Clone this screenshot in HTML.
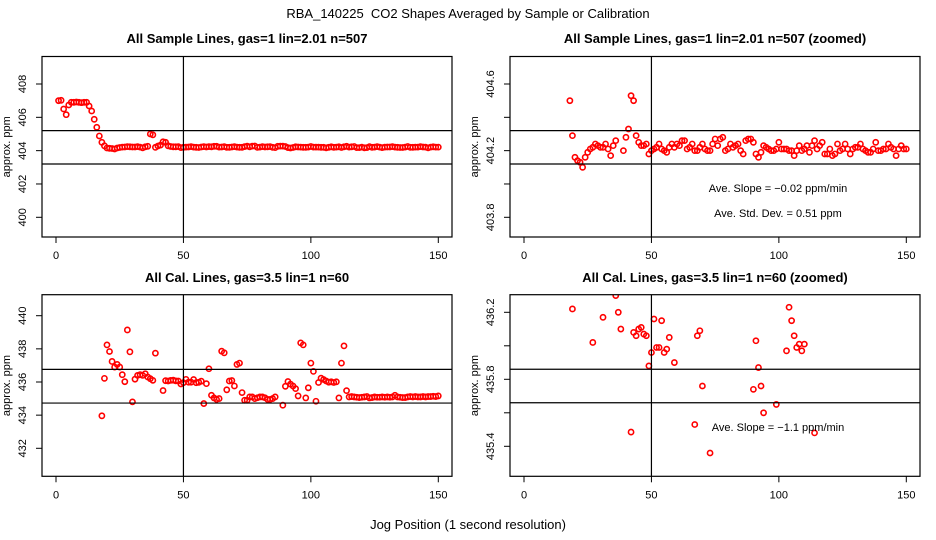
<!DOCTYPE html>
<html><head><meta charset="utf-8"><style>
html,body{margin:0;padding:0;background:#fff;width:936px;height:540px;overflow:hidden;}
svg{display:block;font-family:"Liberation Sans",sans-serif;}
</style></head><body>
<svg id="chart" width="936" height="540" viewBox="0 0 936 540" xmlns="http://www.w3.org/2000/svg">
<text x="468" y="18" text-anchor="middle" font-size="13" style="white-space:pre">RBA_140225  CO2 Shapes Averaged by Sample or Calibration</text>
<text x="468" y="529" text-anchor="middle" font-size="13">Jog Position (1 second resolution)</text>
</svg>
<script>
const sampleX = [];
for (let i = 1; i <= 150; i++) sampleX.push(i);
const sampleValues = [407.0,407.02,406.5,406.16,406.74,406.9,406.9,406.92,406.9,406.88,406.9,406.9,406.68,406.38,405.88,405.4,404.88,
404.50,404.29,404.16,404.14,404.13,404.10,404.16,404.19,404.21,404.22,404.24,404.23,404.22,404.22,404.24,404.21,404.17,404.23,404.26,405.0,404.95,404.20,404.28,404.33,404.53,404.50,404.29,404.25,404.23,404.23,404.24,404.18,404.20,
404.21,404.22,404.24,404.21,404.20,404.19,404.22,404.24,404.22,404.24,404.23,404.26,404.26,404.21,404.22,404.24,404.20,404.20,404.22,404.24,
404.21,404.20,404.20,404.24,404.27,404.23,404.27,404.28,404.20,404.21,404.24,404.22,404.23,404.24,404.20,404.18,404.26,404.27,404.27,404.25,
404.18,404.16,404.19,404.23,404.22,404.21,404.20,404.20,404.21,404.25,404.21,404.21,404.21,404.20,404.20,404.17,404.20,404.23,404.20,404.21,
404.23,404.19,404.23,404.26,404.21,404.23,404.25,404.18,404.18,404.21,404.17,404.18,404.24,404.20,404.21,404.24,404.21,404.18,404.21,404.22,
404.22,404.24,404.21,404.20,404.19,404.19,404.21,404.25,404.20,404.20,404.21,404.21,404.24,404.22,404.21,404.17,404.21,404.23,404.21,404.21];
const calX = [];
for (let i = 18; i <= 150; i++) calX.push(i);
const calValues = [433.96,436.22,438.24,437.84,437.24,436.9,437.06,436.9,436.44,436.02,439.14,437.82,434.8,436.17,436.4,436.44,436.4,436.5,436.3,436.2,436.10,437.74,null,null,
435.485,436.08,436.06,436.10,436.11,436.07,436.06,435.88,435.96,436.16,435.99,435.99,436.15,435.96,435.98,436.05,434.7,435.90,436.8,435.2,435.04,434.95,435.0,437.86,437.76,435.53,
436.06,436.09,435.76,437.06,437.14,435.36,434.9,434.9,435.1,435.1,435.0,435.05,435.1,435.1,435.05,434.95,434.95,435.0,435.1,null,null,434.6,435.74,436.03,435.87,435.76,435.6,435.16,
438.36,438.24,435.04,435.65,437.14,436.64,434.84,435.97,436.23,436.15,436.06,435.99,436.01,435.97,436.01,435.04,437.14,438.18,435.48,435.1,
435.12,435.1,435.08,435.06,435.08,435.1,435.12,435.04,435.06,435.1,435.08,435.08,435.1,435.08,435.1,435.08,435.1,435.2,435.1,435.08,435.06,435.06,435.1,435.12,435.1,435.12,435.1,435.1,435.12,435.1,435.12,435.12,435.14,435.12,435.16];
const xTicks = [0,50,100,150];
const tlTicks = [400,402,404,406,408];
const trTicks = [403.8,404.0,404.2,404.4,404.6];
const trLabels = ["403.8","","404.2","","404.6"];
const blTicks = [432,434,436,438,440];
const brTicks = [435.4,435.6,435.8,436.0,436.2];
const brLabels = ["435.4","","435.8","","436.2"];
const tlRefs = [405.2,403.2];
const trRefs = [404.32,404.12];
const blRefs = [436.76,434.73];
const brRefs = [435.86,435.66];

const NS = "http://www.w3.org/2000/svg";
const svg = document.getElementById('chart');
function mk(tag, attrs, parent){const e=document.createElementNS(NS,tag);for(const k in attrs)e.setAttribute(k,attrs[k]);(parent||svg).appendChild(e);return e;}

const panels = [
 {name:'sample-full',dx:0,top:56.5,bot:237,v1:408,p1:84,v2:400,p2:217.3,title:'All Sample Lines, gas=1 lin=2.01 n=507',xs:sampleX,ys:sampleValues,ticks:tlTicks,labels:tlTicks.map(String),refs:tlRefs,ty:43},
 {name:'sample-zoomed',dx:468,top:56.5,bot:237,v1:404.6,p1:84,v2:403.8,p2:217.3,title:'All Sample Lines, gas=1 lin=2.01 n=507 (zoomed)',xs:sampleX,ys:sampleValues,ticks:trTicks,labels:trLabels,refs:trRefs,ty:43},
 {name:'cal-full',dx:0,top:294.7,bot:476.3,v1:440,p1:315.7,v2:432,p2:448.3,title:'All Cal. Lines, gas=3.5 lin=1 n=60',xs:calX,ys:calValues,ticks:blTicks,labels:blTicks.map(String),refs:blRefs,ty:282},
 {name:'cal-zoomed',dx:468,top:294.7,bot:476.3,v1:436.2,p1:312.3,v2:435.4,p2:446.3,title:'All Cal. Lines, gas=3.5 lin=1 n=60 (zoomed)',xs:calX,ys:calValues,ticks:brTicks,labels:brLabels,refs:brRefs,ty:282}
];

panels.forEach((p,pi)=>{
  const L=42+p.dx, R=452+p.dx;
  const xS = v => 56+p.dx + v*(382.3/150);
  const yS = v => p.p1 + (v-p.v1)*(p.p2-p.p1)/(p.v2-p.v1);
  const g = mk('g',{});
  
  
  const t = mk('text',{x:(L+R)/2,y:p.ty,'text-anchor':'middle','font-size':13,'font-weight':'bold'},g);
  t.textContent=p.title;
  
  
  const cp = mk('clipPath',{id:'clip'+pi},g);
  mk('rect',{x:L,y:p.top,width:R-L,height:p.bot-p.top},cp);
  const pg = mk('g',{'clip-path':'url(#clip'+pi+')'},g);
  
  
  p.xs.forEach((x,i)=>{
    const v=p.ys[i]; if(v===null||v===undefined) return;
    const cy=yS(v);
    if(cy<p.top-3||cy>p.bot+3) return;
    const c = mk('circle',{cx:xS(x),cy:cy,r:2.6,fill:'none',stroke:'#ff0000','stroke-width':1.6},pg);
    
    
  });
  const lg = mk('g',{'clip-path':'url(#clip'+pi+')'},g);
  p.refs.forEach(r=>{
    const l = mk('line',{x1:L,x2:R,y1:yS(r),y2:yS(r),stroke:'#000','stroke-width':1.2},lg);
    
    
  });
  const vl = mk('line',{x1:xS(50),x2:xS(50),y1:p.top,y2:p.bot,stroke:'#000','stroke-width':1.2},lg);
  
  
  const box = mk('rect',{x:L,y:p.top,width:R-L,height:p.bot-p.top,fill:'none',stroke:'#000','stroke-width':1.2},g);
  
  
  xTicks.forEach(v=>{
    mk('line',{x1:xS(v),x2:xS(v),y1:p.bot,y2:p.bot+6,stroke:'#000','stroke-width':1},g);
    const tl = mk('text',{x:xS(v),y:p.bot+22,'text-anchor':'middle','font-size':11},g);
    tl.textContent=v;
    
    
  });
  p.ticks.forEach((v,i)=>{
    mk('line',{x1:L-6,x2:L,y1:yS(v),y2:yS(v),stroke:'#000','stroke-width':1},g);
    if(p.labels[i]){
      const yl = mk('text',{x:0,y:0,'text-anchor':'middle','font-size':11,transform:'translate('+(L-16)+','+yS(v)+') rotate(-90)'},g);
      yl.textContent=p.labels[i];
      
      
    }
  });
  const ya = mk('text',{x:0,y:0,'text-anchor':'middle','font-size':11,transform:'translate('+(L-32)+','+((p.top+p.bot)/2)+') rotate(-90)'},g);
  ya.textContent='approx. ppm';
  
  
});

function note(x,y,s,name){
  const t = mk('text',{x:x,y:y,'text-anchor':'middle','font-size':11});
  t.textContent=s;
  
  
}
note(778,192,'Ave. Slope =  \u22120.02  ppm/min','slope-annotation');
note(778,217,'Ave. Std. Dev. =  0.51  ppm','stddev-annotation');
note(778,431,'Ave. Slope =  \u22121.1  ppm/min','cal-slope-annotation');
</script>
</body></html>
